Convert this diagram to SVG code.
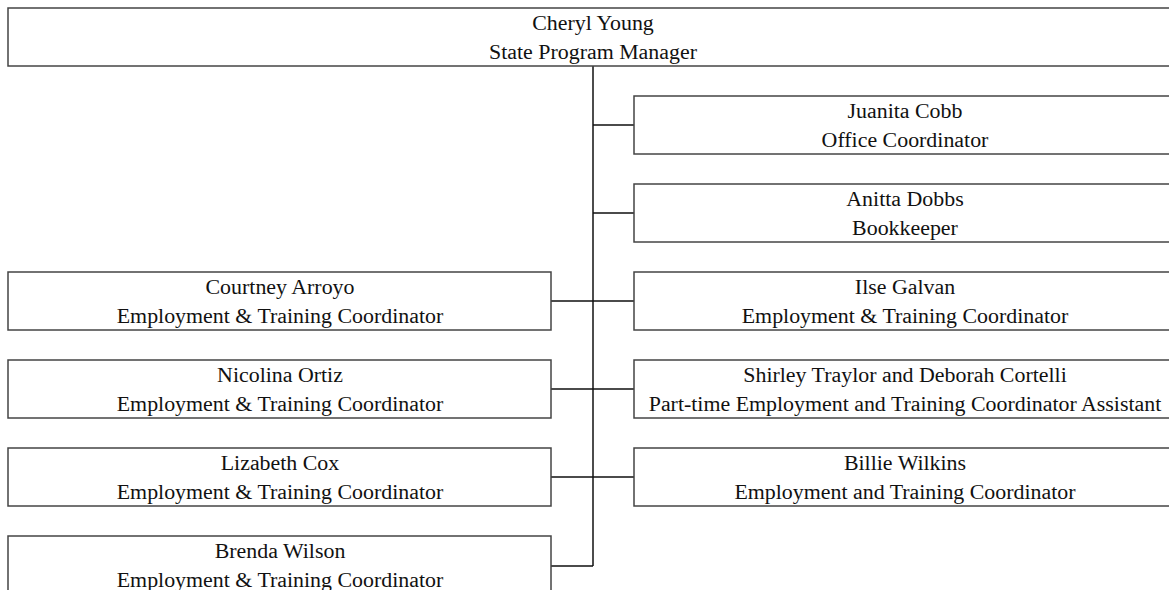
<svg xmlns="http://www.w3.org/2000/svg" width="1169" height="590" viewBox="0 0 1169 590">
<style>
.box{fill:#fff;stroke:#444;stroke-width:1.5}
.t{font-family:"Liberation Serif","Times New Roman",serif;font-size:21.9px;fill:#111;text-anchor:middle}
.c{fill:none;stroke:#111;stroke-width:1.5}
</style>
<rect width="1169" height="590" fill="#fff"/>
<g id="connectors">
<path class="c" d="M593 66V566"/>
<path class="c" d="M593 125H634M593 213H634M593 301H634M593 389H634M593 477H634"/>
<path class="c" d="M551 301H593M551 389H593M551 477H593M551 566H593"/>
</g>
<g id="cheryl"><rect class="box" x="8" y="8" width="1170" height="58"/><text class="t" x="593" y="30">Cheryl Young</text><text class="t" x="593" y="59">State Program Manager</text></g>
<g id="juanita"><rect class="box" x="634" y="96" width="544" height="58"/><text class="t" x="905" y="118">Juanita Cobb</text><text class="t" x="905" y="147">Office Coordinator</text></g>
<g id="anitta"><rect class="box" x="634" y="184" width="544" height="58"/><text class="t" x="905" y="206">Anitta Dobbs</text><text class="t" x="905" y="235">Bookkeeper</text></g>
<g id="ilse"><rect class="box" x="634" y="272" width="544" height="58"/><text class="t" x="905" y="294">Ilse Galvan</text><text class="t" x="905" y="323">Employment &amp; Training Coordinator</text></g>
<g id="shirley"><rect class="box" x="634" y="360" width="544" height="58"/><text class="t" x="905" y="382">Shirley Traylor and Deborah Cortelli</text><text class="t" x="905" y="411">Part-time Employment and Training Coordinator Assistant</text></g>
<g id="billie"><rect class="box" x="634" y="448" width="544" height="58"/><text class="t" x="905" y="470">Billie Wilkins</text><text class="t" x="905" y="499">Employment and Training Coordinator</text></g>
<g id="courtney"><rect class="box" x="8" y="272" width="543" height="58"/><text class="t" x="280" y="294">Courtney Arroyo</text><text class="t" x="280" y="323">Employment &amp; Training Coordinator</text></g>
<g id="nicolina"><rect class="box" x="8" y="360" width="543" height="58"/><text class="t" x="280" y="382">Nicolina Ortiz</text><text class="t" x="280" y="411">Employment &amp; Training Coordinator</text></g>
<g id="lizabeth"><rect class="box" x="8" y="448" width="543" height="58"/><text class="t" x="280" y="470">Lizabeth Cox</text><text class="t" x="280" y="499">Employment &amp; Training Coordinator</text></g>
<g id="brenda"><rect class="box" x="8" y="536" width="543" height="58"/><text class="t" x="280" y="558">Brenda Wilson</text><text class="t" x="280" y="587">Employment &amp; Training Coordinator</text></g>
</svg>
